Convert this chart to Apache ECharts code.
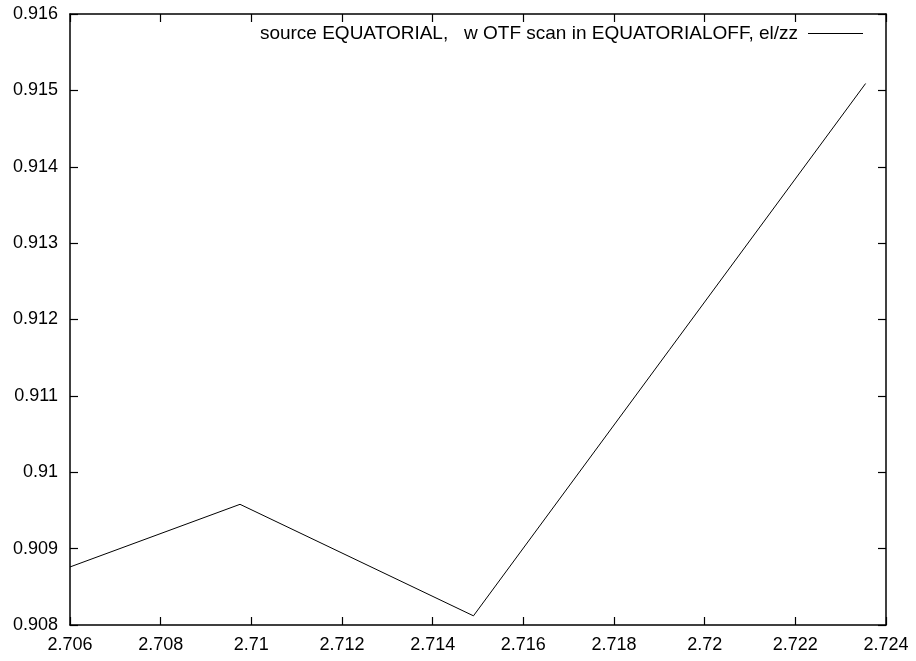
<!DOCTYPE html>
<html><head><meta charset="utf-8">
<script src="https://cdn.jsdelivr.net/npm/echarts@6/dist/echarts.min.js"></script>
<style>html,body{margin:0;padding:0;background:#fff}#c{width:916px;height:661px}</style>
</head><body><div id="c"></div>
<script>
const seriesName = 'source EQUATORIAL,   w OTF scan in EQUATORIALOFF, el/zz';
const xValues = [2.706, 2.70975, 2.7149, 2.72355];
const yValues = [0.90876, 0.90958, 0.90812, 0.91509];
const xTicks = {min: 2.706, max: 2.724, interval: 0.002};
const yTicks = {min: 0.908, max: 0.916, interval: 0.001};

const fmt = v => String(parseFloat(v.toFixed(4)));
const font = 'Liberation Sans, Arial, Helvetica, sans-serif';
const fs = 18;
const axisBase = {
  axisLine: {show: true, onZero: false, lineStyle: {color: '#000', width: 1.5}},
  axisTick: {show: true, inside: true, length: 8, lineStyle: {color: '#000', width: 1.2}},
  splitLine: {show: false}
};
const chart = echarts.init(document.getElementById('c'), null, {renderer: 'canvas'});
chart.setOption({
  animation: false,
  backgroundColor: '#fff',
  grid: {left: 70, right: 30, top: 14, bottom: 36, containLabel: false},
  legend: {
    right: 48, top: 19, align: 'right', itemWidth: 55, itemHeight: 1.2, icon: 'rect',
    itemGap: 10,
    textStyle: {fontFamily: font, fontSize: 19, color: '#000', padding: [2, 5, 0, 0]},
    data: [{name: seriesName, itemStyle: {color: '#000'}}]
  },
  xAxis: [
    Object.assign({type: 'value', position: 'bottom', min: xTicks.min, max: xTicks.max, interval: xTicks.interval,
      axisLabel: {formatter: fmt, fontFamily: font, fontSize: fs, color: '#000', margin: 11, showMinLabel: true, showMaxLabel: true}}, axisBase),
    Object.assign({type: 'value', position: 'top', min: xTicks.min, max: xTicks.max, interval: xTicks.interval,
      axisLabel: {show: false}}, axisBase)
  ],
  yAxis: [
    Object.assign({type: 'value', position: 'left', min: yTicks.min, max: yTicks.max, interval: yTicks.interval,
      axisLabel: {formatter: fmt, fontFamily: font, fontSize: fs, color: '#000', margin: 12}}, axisBase),
    Object.assign({type: 'value', position: 'right', min: yTicks.min, max: yTicks.max, interval: yTicks.interval,
      axisLabel: {show: false}}, axisBase)
  ],
  series: [{
    name: seriesName, type: 'line', xAxisIndex: 0, yAxisIndex: 0,
    data: xValues.map((x, i) => [x, yValues[i]]),
    showSymbol: false, symbol: 'none',
    lineStyle: {color: '#000', width: 1}, itemStyle: {color: '#000'}
  }]
});
</script></body></html>
